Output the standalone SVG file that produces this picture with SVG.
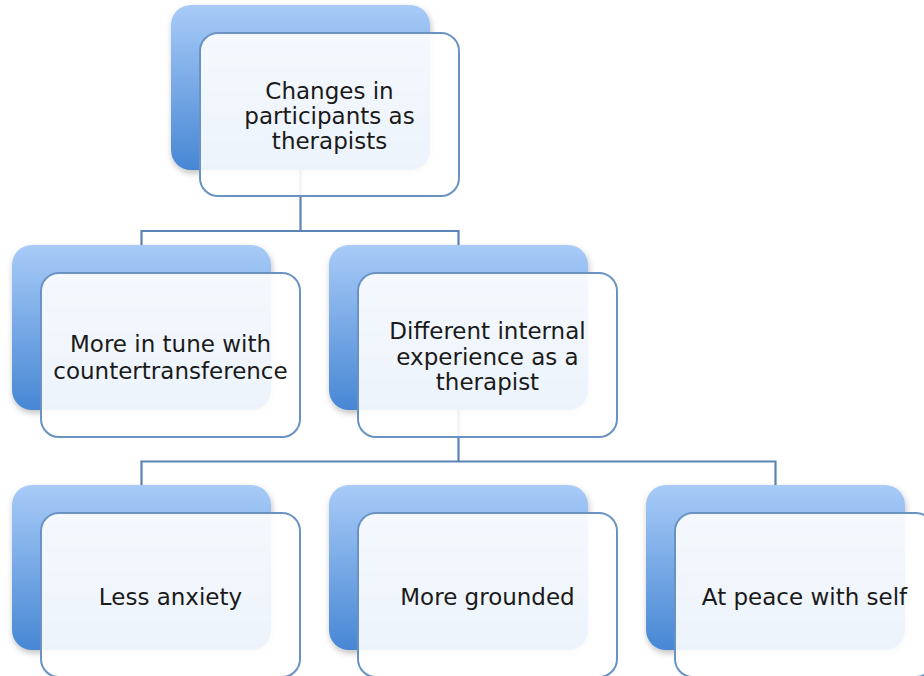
<svg xmlns="http://www.w3.org/2000/svg" width="924" height="676" viewBox="0 0 924 676">
<style>
.back{fill:url(#bg);filter:url(#sh)}
.front{fill:#ffffff;fill-opacity:0.9;stroke:#6a93c4;stroke-width:2}
.lbl{font-family:"DejaVu Sans",Verdana,sans-serif;font-size:23px;fill:#1a1a1a;text-anchor:middle}
.conn{fill:none;stroke:#5a84b6;stroke-width:2.2}
</style>
<defs>
<linearGradient id="bg" x1="0" y1="0" x2="0" y2="1">
<stop offset="0" stop-color="#a8cbf8"/>
<stop offset="1" stop-color="#4787d4"/>
</linearGradient>
<filter id="sh" x="-10%" y="-10%" width="125%" height="125%">
<feDropShadow dx="1" dy="3" stdDeviation="3" flood-color="#000" flood-opacity="0.25"/>
</filter>
</defs>
<rect width="924" height="676" fill="#ffffff"/>
<g id="connectors">
<path class="conn" d="M300.5 170 V231 M141.5 245 V231 H458.5 V245"/>
<path class="conn" d="M458.5 410 V461.5 M141.5 485 V461.5 H775.5 V485"/>
</g>
<g id="n0">
<rect class="back" x="171" y="5" width="259" height="165" rx="20"/>
<rect class="front" x="200" y="33" width="259" height="163" rx="18"/>
<text class="lbl" x="329.5" y="99">Changes in</text>
<text class="lbl" x="329.5" y="124">participants as</text>
<text class="lbl" x="329.5" y="148.5">therapists</text>
</g>
<g id="n1">
<rect class="back" x="12" y="245" width="259" height="165" rx="20"/>
<rect class="front" x="41" y="273" width="259" height="164" rx="18"/>
<text class="lbl" x="170.5" y="352">More in tune with</text>
<text class="lbl" x="170.5" y="378.5">countertransference</text>
</g>
<g id="n2">
<rect class="back" x="329" y="245" width="259" height="165" rx="20"/>
<rect class="front" x="358" y="273" width="259" height="164" rx="18"/>
<text class="lbl" x="487.5" y="339">Different internal</text>
<text class="lbl" x="487.5" y="364.5">experience as a</text>
<text class="lbl" x="487.5" y="390">therapist</text>
</g>
<g id="n3">
<rect class="back" x="12" y="485" width="259" height="165" rx="20"/>
<rect class="front" x="41" y="513" width="259" height="164" rx="18"/>
<text class="lbl" x="170.5" y="605">Less anxiety</text>
</g>
<g id="n4">
<rect class="back" x="329" y="485" width="259" height="165" rx="20"/>
<rect class="front" x="358" y="513" width="259" height="164" rx="18"/>
<text class="lbl" x="487.5" y="605">More grounded</text>
</g>
<g id="n5">
<rect class="back" x="646" y="485" width="259" height="165" rx="20"/>
<rect class="front" x="675" y="513" width="259" height="164" rx="18"/>
<text class="lbl" x="804.5" y="605">At peace with self</text>
</g>
</svg>
